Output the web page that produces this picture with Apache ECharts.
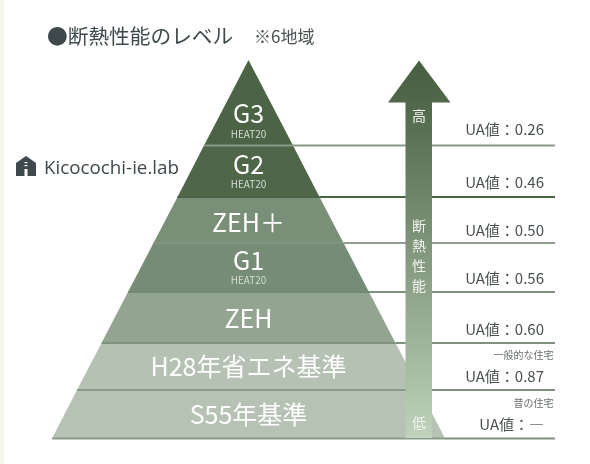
<!DOCTYPE html>
<html><head><meta charset="utf-8">
<style>html,body{margin:0;padding:0;background:#fff}#c{width:590px;height:464px}</style>
<script src="https://cdn.jsdelivr.net/npm/echarts@6/dist/echarts.min.js"></script>
</head><body><div id="c"></div>
<script>
const levels = ['G3','G2','ZEH＋','G1','ZEH','H28年省エネ基準','S55年基準'];
const subLabels = ['HEAT20','HEAT20','','HEAT20','','',''];
const bandWidths = [89,142,190,241,294,343,393];
const bandHeights = [85.5,51.5,46,49,51,47,48.5];
const bandColors = ['#4c6445','#4f6649','#7a8f78','#778c76','#93a590','#b4c1b3','#b5c2b4'];
const uaValues = ['0.26','0.46','0.50','0.56','0.60','0.87','―'];
const uaNotes = ['','','','','','一般的な住宅','昔の住宅'];
const lineColors = ['#87998a','#4a6345','#8fa08f','#7f917f','#7f917f','#7f917f','#7f917f'];
const lineInsideColors = ['#87998a','#4a6345','#81947e','#748973','#7f917f','#8a9b8a','#8a9b8a'];
const arrowWords = ['断','熱','性','能'];

const FONT = '"Noto Sans CJK JP","Noto Sans",sans-serif';
const apexX = 248.5, topY = 60, baseW = 393, pyrH = 378.5, rightEnd = 555;
const uaDY = [-16,-15,-13,-14,-14,-14,-14];
const g = [];
g.push({type:'rect',shape:{x:0,y:0,width:4,height:464},style:{fill:'#f7f6f0'},z:1});
let y = topY;
bandHeights.forEach((h,i)=>{
  y += h;
  const half = (y-topY)/pyrH*baseW/2;
  g.push({type:'rect',shape:{x:apexX-half,y:y-1,width:2*half,height:2},style:{fill:lineInsideColors[i]},z:5});
  g.push({type:'rect',shape:{x:apexX+half,y:y-1,width:rightEnd-apexX-half,height:2},style:{fill:lineColors[i]},z:5});
  g.push({type:'text',style:{x:544,y:y+uaDY[i],text:'UA値：'+uaValues[i],font:'15px '+FONT,fill:'#4b5152',align:'right',verticalAlign:'middle'},z:8});
  if(uaNotes[i]) g.push({type:'text',style:{x:553.5,y:y-35,text:uaNotes[i],font:'10px '+FONT,fill:'#6a6f6f',align:'right',verticalAlign:'middle'},z:8});
});
g.push({type:'polygon',shape:{points:[[419,60.5],[450.5,102.5],[432,102.5],[432,438],[405.5,438],[405.5,102.5],[388,102.5]]},
  style:{fill:{type:'linear',x:0,y:0,x2:0,y2:1,colorStops:[{offset:0,color:'#475f41'},{offset:0.1,color:'#4f6649'},{offset:1,color:'#bfd2bb'}]}},z:6});
const vText=(t,yy)=>g.push({type:'text',style:{x:419,y:yy,text:t,font:'14px '+FONT,fill:'#f1f4ef',align:'center',verticalAlign:'middle'},z:8});
vText('高',116);
arrowWords.forEach((w,i)=>vText(w,226+i*20));
vText('低',423);
g.push({type:'text',style:{x:47,y:36,text:'●断熱性能のレベル',font:'20.7px '+FONT,fill:'#3f494c',verticalAlign:'middle'},z:8});
g.push({type:'text',style:{x:254,y:37,text:'※6地域',font:'17px '+FONT,fill:'#4b5152',verticalAlign:'middle'},z:8});
g.push({type:'polygon',shape:{points:[[26,156],[36,163],[36,176],[16,176],[16,163]]},style:{fill:'#3f494c'},z:8});
g.push({type:'rect',shape:{x:24.5,y:169,width:3,height:7},style:{fill:'#fff'},z:9});
g.push({type:'rect',shape:{x:24.5,y:162,width:3,height:1.2},style:{fill:'#fff'},z:9});
g.push({type:'rect',shape:{x:24.5,y:165,width:3,height:1.2},style:{fill:'#fff'},z:9});
g.push({type:'text',style:{x:44,y:169,text:'Kicocochi-ie.lab',font:'18.8px "Open Sans",sans-serif',fill:'#3f494c',verticalAlign:'middle'},z:8});

const labelDy = [17,-1,2,-1.5,1,0,0];
const chart = echarts.init(document.getElementById('c'),null,{renderer:'canvas'});
chart.setOption({
  animation:false,
  backgroundColor:'#fff',
  graphic:{elements:g},
  series:[{
    type:'funnel',
    left:apexX-baseW/2, top:topY, width:baseW, height:pyrH,
    min:0,max:393,minSize:0,maxSize:baseW,
    sort:'ascending',gap:0,
    silent:true,
    label:{show:true,position:'inside',formatter:p=>{
        const s=subLabels[p.dataIndex];
        return '{m|'+p.name+'}'+(s?'\n{s|'+s+'}':'');
      },
      rich:{m:{fontSize:25,color:'#fff',fontFamily:FONT,lineHeight:28,align:'center'},
            s:{fontSize:10,color:'#d5dcd3',fontFamily:FONT,lineHeight:12,align:'center'}}},
    labelLine:{show:false},
    labelLayout:p=>({dy:labelDy[p.dataIndex]}),
    itemStyle:{borderWidth:0},
    data:levels.map((n,i)=>({name:n,value:bandWidths[i],itemStyle:{color:bandColors[i],height:bandHeights[i]}}))
  }]
});
</script></body></html>
